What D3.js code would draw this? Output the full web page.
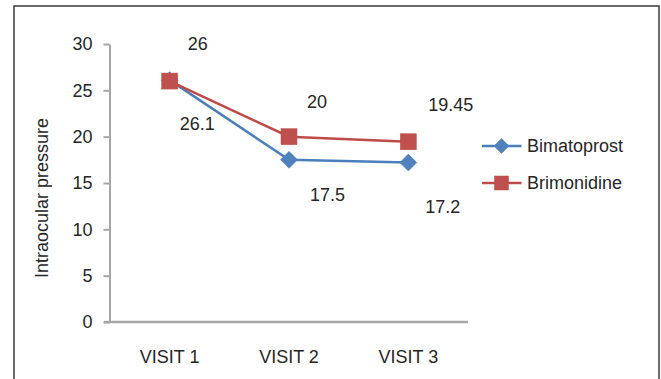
<!DOCTYPE html>
<html>
<head>
<meta charset="utf-8">
<script src="https://cdn.jsdelivr.net/npm/d3@7"></script>
<style>
  html, body { margin: 0; padding: 0; background: #fff; }
  svg text { font-family: "Liberation Sans", Arial, sans-serif; fill: #262626; }
</style>
</head>
<body>
<svg id="chart" width="661" height="379"></svg>
<script>
// ---- data ----
const categories = ["VISIT 1", "VISIT 2", "VISIT 3"];
const bimatoprost = [26.1, 17.5, 17.2];
const brimonidine = [26, 20, 19.45];
const seriesNames = ["Bimatoprost", "Brimonidine"];
const yTicks = [0, 5, 10, 15, 20, 25, 30];
const yTitle = "Intraocular pressure";

// ---- layout (label offsets relative to point, not data) ----
const bimaLabelOffsets = [[10, 43], [21, 35], [17, 44]];
const brimLabelOffsets = [[18, -37], [18, -35], [20, -37]];

const svg = d3.select("#chart");
const blue = "#4A7EBB", blueMarker = "#4F81BD";
const red = "#BE4B48", redMarker = "#C0504D";
const fontSize = 18;

// outer frame
svg.append("path")
  .attr("d", "M14,379 L14,6 L659,6 L659,379")
  .attr("fill", "none").attr("stroke", "#3a3a3a").attr("stroke-width", 1.5);

const x = d3.scaleBand().domain(categories).range([110, 468]).paddingInner(0).paddingOuter(0);
const cx = c => x(c) + x.bandwidth() / 2;
const y = d3.scaleLinear().domain([0, 30]).range([322, 44]);

// y axis
const yAxis = svg.append("g").attr("transform", "translate(109.5,0)")
  .call(d3.axisLeft(y).tickValues(yTicks).tickSize(6).tickSizeOuter(0).tickPadding(11));
yAxis.select(".domain").attr("stroke", "#A6A6A6").attr("stroke-width", 2);
yAxis.selectAll(".tick line").attr("stroke", "#A6A6A6").attr("stroke-width", 2);
yAxis.selectAll("text").attr("font-size", fontSize).attr("fill", "#262626")
  .style("font-family", "Liberation Sans, Arial, sans-serif");

// x axis
const xAxis = svg.append("g").attr("transform", "translate(0,322)")
  .call(d3.axisBottom(x).tickSize(0).tickSizeOuter(0).tickPadding(28));
xAxis.select(".domain").attr("d", "M104,0H468").attr("stroke", "#A6A6A6").attr("stroke-width", 2.5);
xAxis.selectAll("text").attr("font-size", fontSize).attr("fill", "#262626")
  .style("font-family", "Liberation Sans, Arial, sans-serif");

// y title
svg.append("text")
  .attr("transform", "translate(48,198) rotate(-90)")
  .attr("text-anchor", "middle")
  .attr("font-size", fontSize)
  .text(yTitle);

const line = d3.line().x((d, i) => cx(categories[i])).y(d => y(d));

// Bimatoprost line
svg.append("path").datum(bimatoprost).attr("d", line)
  .attr("fill", "none").attr("stroke", blue).attr("stroke-width", 2.5);
// Brimonidine line
svg.append("path").datum(brimonidine).attr("d", line)
  .attr("fill", "none").attr("stroke", red).attr("stroke-width", 2.5);

const diamond = (s) => `M0,${-s}L${s},0L0,${s}L${-s},0Z`;

// Bimatoprost markers
svg.selectAll(".bm").data(bimatoprost).enter().append("path")
  .attr("d", diamond(8.5))
  .attr("transform", (d, i) => `translate(${cx(categories[i])},${y(d)})`)
  .attr("fill", blueMarker).attr("stroke", blue).attr("stroke-width", 0.5);

// Brimonidine markers
svg.selectAll(".rm").data(brimonidine).enter().append("rect")
  .attr("x", (d, i) => cx(categories[i]) - 8).attr("y", d => y(d) - 8)
  .attr("width", 16).attr("height", 16)
  .attr("fill", redMarker).attr("stroke", red).attr("stroke-width", 0.5);

// data labels
svg.selectAll(".bl").data(bimatoprost).enter().append("text")
  .attr("x", (d, i) => cx(categories[i]) + bimaLabelOffsets[i][0])
  .attr("y", (d, i) => y(d) + bimaLabelOffsets[i][1] + 6.4)
  .attr("font-size", fontSize)
  .text(d => d);
svg.selectAll(".rl").data(brimonidine).enter().append("text")
  .attr("x", (d, i) => cx(categories[i]) + brimLabelOffsets[i][0])
  .attr("y", (d, i) => y(d) + brimLabelOffsets[i][1] + 6.4)
  .attr("font-size", fontSize)
  .text(d => d);

// legend
const legendY = [146, 183];
const lg = svg.append("g");
[0, 1].forEach(k => {
  const g = lg.append("g").attr("transform", `translate(0,${legendY[k]})`);
  g.append("line").attr("x1", 482).attr("x2", 521.5).attr("y1", 0).attr("y2", 0)
    .attr("stroke", k === 0 ? blue : red).attr("stroke-width", 2.5);
  if (k === 0) {
    g.append("path").attr("d", diamond(7.5)).attr("transform", "translate(501.5,0)")
      .attr("fill", blueMarker).attr("stroke", blue).attr("stroke-width", 0.5);
  } else {
    g.append("rect").attr("x", 494.5).attr("y", -7).attr("width", 14).attr("height", 14)
      .attr("fill", redMarker).attr("stroke", red).attr("stroke-width", 0.5);
  }
  g.append("text").attr("x", 527).attr("y", 6.4).attr("font-size", fontSize).text(seriesNames[k]);
});
</script>
</body>
</html>
